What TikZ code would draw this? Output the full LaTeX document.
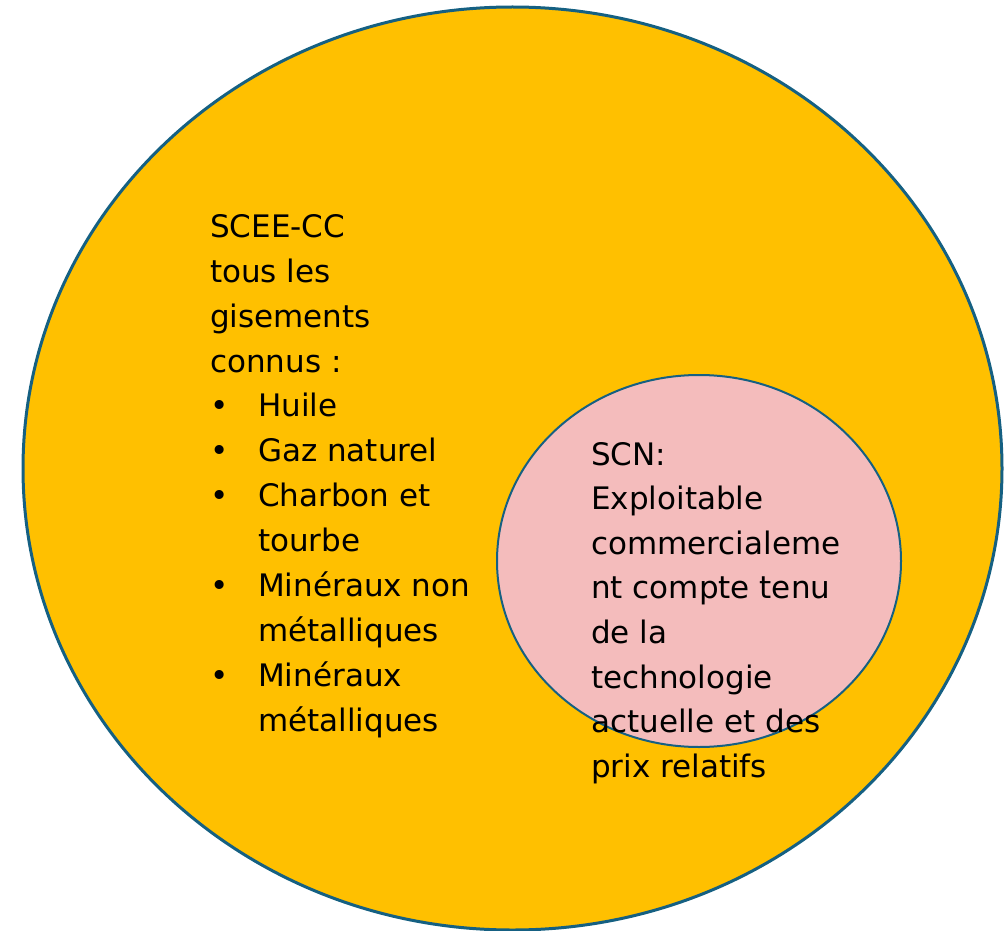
\documentclass[tikz,border=0pt]{standalone}
\usepackage{fontspec}
\setmainfont{DejaVu Sans}
\definecolor{edgeblue}{RGB}{21,96,130}
\definecolor{goldfill}{RGB}{255,192,0}
\definecolor{pinkfill}{RGB}{244,188,188}
\tikzset{
  txt/.style={anchor=base west, inner sep=0pt, font=\fontsize{31}{44.8}\selectfont},
  bigset/.style={draw=edgeblue, line width=3pt, fill=goldfill},
  smallset/.style={draw=edgeblue, line width=2pt, fill=pinkfill}
}
\begin{document}
\begin{tikzpicture}[x=1pt,y=-1pt]
\useasboundingbox (0,0) rectangle (1004,931);
\draw[bigset] (512.5,468.5) ellipse [x radius=489.5, y radius=461.5];
\draw[smallset] (699,561) ellipse [x radius=202, y radius=186];
% left text
\node[txt] (l1) at (210,237.3) {SCEE-CC};
\node[txt] (l2) at (210,282.2) {tous les};
\node[txt] (l3) at (210,327.1) {gisements};
\node[txt] (l4) at (210,372.0) {connus :};
\node[txt] (b1) at (210,416.9) {•};
\node[txt] (i1) at (258,416.9) {Huile};
\node[txt] (b2) at (210,461.8) {•};
\node[txt] (i2) at (258,461.8) {Gaz naturel};
\node[txt] (b3) at (210,506.7) {•};
\node[txt] (i3) at (258,506.7) {Charbon et};
\node[txt] (i3b) at (258,551.6) {tourbe};
\node[txt] (b4) at (210,596.5) {•};
\node[txt] (i4) at (258,596.5) {Minéraux non};
\node[txt] (i4b) at (258,641.4) {métalliques};
\node[txt] (b5) at (210,686.3) {•};
\node[txt] (i5) at (258,686.3) {Minéraux};
\node[txt] (i5b) at (258,731.2) {métalliques};
% right text
\node[txt] (r1) at (591,465.0) {SCN:};
\node[txt] (r2) at (591,509.6) {Exploitable};
\node[txt] (r3) at (591,554.2) {commercialeme};
\node[txt] (r4) at (591,598.8) {nt compte tenu};
\node[txt] (r5) at (591,643.4) {de la};
\node[txt] (r6) at (591,688.0) {technologie};
\node[txt] (r7) at (591,732.6) {actuelle et des};
\node[txt] (r8) at (591,777.2) {prix relatifs};
\end{tikzpicture}
\end{document}
